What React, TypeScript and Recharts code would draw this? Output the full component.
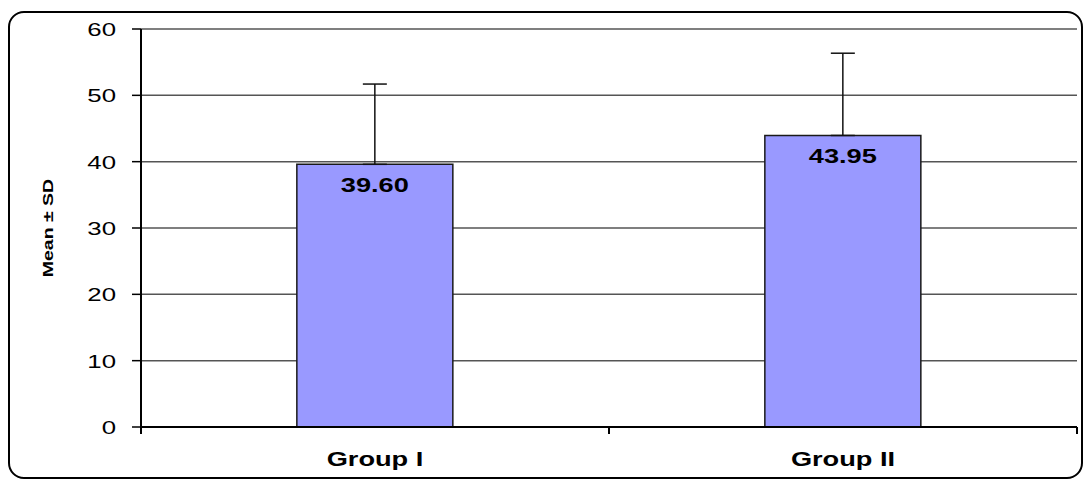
import React from "react";
import {
  Bar,
  BarChart,
  CartesianGrid,
  ErrorBar,
  LabelList,
  XAxis,
  YAxis,
} from "recharts";

const groups = ["Group I", "Group II"];
const means = [39.6, 43.95];
const sds = [12.1, 12.4];
const yTicks = [0, 10, 20, 30, 40, 50, 60];

const data = groups.map((name, i) => ({
  name,
  mean: means[i],
  err: [0, sds[i]],
}));

const font = "'Liberation Sans', Arial, sans-serif";
// the original's text is stretched along its baseline
const STRETCH = 1.36;

function YTick(props: any) {
  const { x, y, payload } = props;
  return (
    <g transform={`translate(${x},${y})`}>
      <text transform={`scale(${STRETCH},1)`} textAnchor="end" dy={7} fill="#000" fontSize={19} fontFamily={font}>
        {payload.value}
      </text>
    </g>
  );
}

// category label plus tick marks on the band edges
function XTick(props: any) {
  const { x, y, payload } = props;
  const half = payload.offset || 0;
  return (
    <g transform={`translate(${x},${y})`}>
      <line x1={-half} x2={-half} y1={-8} y2={-1} stroke="#000" strokeWidth={2} />
      <line x1={half} x2={half} y1={-8} y2={-1} stroke="#000" strokeWidth={2} />
      <text transform={`scale(${STRETCH},1)`} textAnchor="middle" dy={31} fill="#000" fontSize={20} fontWeight="bold" fontFamily={font}>
        {payload.value}
      </text>
    </g>
  );
}

function BarValue(props: any) {
  const { x, y, width, value } = props;
  return (
    <g transform={`translate(${x + width / 2},${y})`}>
      <text transform={`scale(${STRETCH},1)`} textAnchor="middle" dy={28} fill="#000" fontSize={20} fontWeight="bold" fontFamily={font}>
        {Number(value).toFixed(2)}
      </text>
    </g>
  );
}

function YLabel(props: any) {
  const vb = props.viewBox;
  const cy = vb.y + vb.height / 2;
  return (
    <text
      transform={`translate(53,${cy}) rotate(-90) scale(1.3,1)`}
      textAnchor="middle"
      fill="#000"
      fontSize={15}
      fontWeight="bold"
      fontFamily={font}
    >
      Mean ± SD
    </text>
  );
}

export default function App() {
  return (
    <div style={{ position: "absolute", left: 0, top: 0, width: 1084, height: 480, background: "#fff", overflow: "hidden" }}>
      <div
        style={{
          position: "absolute",
          left: 8,
          top: 11,
          width: 1075,
          height: 468,
          boxSizing: "border-box",
          border: "2px solid #000",
          borderRadius: 16,
        }}
      />
      <div style={{ position: "absolute", left: 0, top: 0 }}>
        <BarChart
          width={1084}
          height={480}
          data={data}
          margin={{ top: 29, right: 7, bottom: 0, left: 0 }}
          barCategoryGap="33.3%"
        >
          <CartesianGrid vertical={false} stroke="#555" strokeWidth={1.5} />
          <XAxis
            dataKey="name"
            height={53}
            axisLine={{ stroke: "#000", strokeWidth: 2 }}
            tickLine={false}
            tickSize={6}
            tickMargin={2}
            tick={XTick}
          />
          <YAxis
            domain={[0, 60]}
            ticks={yTicks}
            width={141}
            axisLine={{ stroke: "#000", strokeWidth: 2 }}
            tickLine={{ stroke: "#000", strokeWidth: 1.5 }}
            tickSize={9}
            tickMargin={16}
            tick={YTick}
            label={{ content: YLabel }}
          />
          <YAxis
            yAxisId="right"
            orientation="right"
            width={0}
            domain={[0, 60]}
            ticks={[]}
            axisLine={{ stroke: "#999", strokeWidth: 1.5 }}
            tickLine={false}
            tick={false}
          />
          <Bar
            dataKey="mean"
            fill="#9999ff"
            stroke="#1a1a1a"
            strokeWidth={1.5}
            isAnimationActive={false}
          >
            <ErrorBar
              dataKey="err"
              width={12}
              stroke="#111"
              strokeWidth={1.5}
              isAnimationActive={false}
            />
            <LabelList dataKey="mean" content={BarValue} />
          </Bar>
        </BarChart>
      </div>
    </div>
  );
}
